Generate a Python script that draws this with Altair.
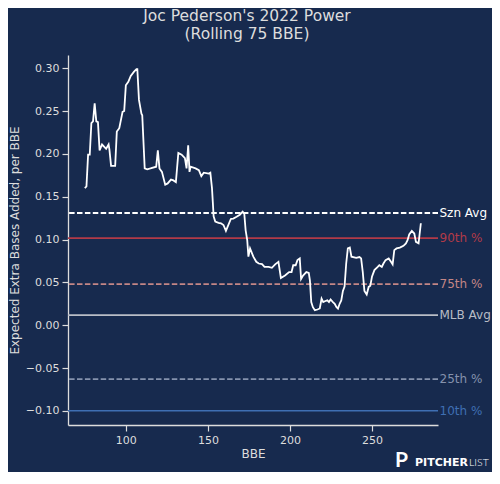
import altair as alt
import pandas as pd

# Rolling 75-BBE expected extra bases added
bbe = [75, 76, 77, 78, 79, 80, 81, 82, 83, 84, 85.5, 87, 88, 89.5, 90, 91, 93.5,
       94.5, 96, 98, 99, 100, 101.5, 103, 105, 106.5, 107, 108, 109.5, 110, 111.5,
       113, 115, 118.5, 119.5, 120.5, 122, 124, 125.5, 127.5, 129, 130.5, 132, 134,
       136, 137, 138, 138.8, 139.5, 142.5, 144.5, 146, 147.5, 150.5, 151.5, 152.5,
       153, 153.5, 154.5, 156.5, 158, 159.5, 161, 162.5, 164, 165.5, 167.5, 169.5,
       171.2, 172.2, 173, 174, 174.7, 175.7, 177.7, 179.5, 181, 183, 184.5, 187,
       189, 191, 193, 194.5, 197, 199.5, 201, 202, 203.5, 204.6, 206, 206.8, 208,
       210, 211.5, 212.2, 213, 214, 215.2, 216.8, 218.2, 219.3, 220.3, 221.3, 222.8,
       223.8, 224.8, 226.2, 227.3, 228.3, 229.3, 230.3, 231.3, 232.3, 233.3, 234.3,
       235.3, 236.5, 237.5, 240.4, 242.4, 243.4, 244.4, 245.4, 246.8, 248, 249, 250,
       251.5, 253.5, 254.5, 256, 257, 258.3, 260.2, 261.6, 262.6, 263.6, 265, 267,
       269.2, 270.7, 271.7, 272.7, 274.3, 275.8, 276.8, 278.4, 279.8]
xeba = [0.160, 0.162, 0.199, 0.199, 0.236, 0.238, 0.259, 0.238, 0.237, 0.204, 0.211,
        0.208, 0.206, 0.211, 0.205, 0.186, 0.186, 0.226, 0.230, 0.249, 0.250, 0.280,
        0.284, 0.291, 0.296, 0.299, 0.299, 0.263, 0.247, 0.245, 0.183, 0.182, 0.183,
        0.185, 0.204, 0.183, 0.179, 0.164, 0.1655, 0.170, 0.169, 0.167, 0.201, 0.199,
        0.195, 0.183, 0.210, 0.179, 0.185, 0.183, 0.181, 0.174, 0.178, 0.177, 0.178,
        0.160, 0.144, 0.127, 0.121, 0.1195, 0.119, 0.117, 0.110, 0.117, 0.124, 0.1245,
        0.1265, 0.129, 0.1325, 0.130, 0.111, 0.099, 0.080, 0.0896, 0.080, 0.074, 0.072,
        0.0713, 0.068, 0.068, 0.067, 0.071, 0.074, 0.055, 0.058, 0.062, 0.062, 0.070,
        0.070, 0.076, 0.078, 0.054, 0.058, 0.062, 0.061, 0.052, 0.027, 0.021, 0.0175,
        0.0183, 0.0195, 0.031, 0.027, 0.028, 0.029, 0.027, 0.030, 0.027, 0.025, 0.0214,
        0.0195, 0.025, 0.029, 0.040, 0.045, 0.072, 0.0896, 0.0907, 0.080, 0.0786,
        0.0795, 0.078, 0.062, 0.040, 0.0358, 0.0447, 0.046, 0.0565, 0.0643, 0.068,
        0.070, 0.068, 0.072, 0.076, 0.078, 0.074, 0.071, 0.0876, 0.0896, 0.0905,
        0.0926, 0.0954, 0.0993, 0.106, 0.110, 0.107, 0.0973, 0.0955, 0.119]

ref_labels = ["Szn Avg", "90th %", "75th %", "MLB Avg", "25th %", "10th %"]
ref_values = [0.131, 0.1016, 0.0479, 0.0117, -0.063, -0.100]

x_ticks = [100, 150, 200, 250]
y_ticks = [-0.10, -0.05, 0.00, 0.05, 0.10, 0.15, 0.20, 0.25, 0.30]

# styling
ref_colors = ["#ffffff", "#b23a48", "#c48686", "#b9bdc6", "#8592ad", "#3f6fb3"]
ref_dashes = [[5.5, 2.4], [1, 0], [5.5, 2.4], [1, 0], [5.5, 2.4], [1, 0]]
ref_widths = [2.0, 1.5, 1.5, 1.8, 1.5, 1.8]

BG = "#172a4e"
FG = "#dddddd"
FONT = "DejaVu Sans"
X_DOMAIN = [64.75, 290.25]
Y_DOMAIN = [-0.1165, 0.3154]
PAGE_CSS = "body{background:#172a4e;}"

line_df = pd.DataFrame({"BBE": bbe, "xEBA": xeba})
ref_df = pd.DataFrame({"label": ref_labels, "value": ref_values})

xscale = alt.Scale(domain=X_DOMAIN, nice=False, zero=False)
yscale = alt.Scale(domain=Y_DOMAIN, nice=False, zero=False)
cscale = alt.Scale(domain=ref_labels, range=ref_colors)

rules = alt.Chart(ref_df).mark_rule().encode(
    y=alt.Y("value:Q", scale=yscale),
    color=alt.Color("label:N", scale=cscale, legend=None),
    strokeDash=alt.StrokeDash("label:N", scale=alt.Scale(domain=ref_labels, range=ref_dashes), legend=None),
    size=alt.Size("label:N", scale=alt.Scale(domain=ref_labels, range=ref_widths), legend=None),
)

labels = alt.Chart(ref_df).mark_text(
    align="left", baseline="middle", dx=1.5, fontSize=12, font=FONT
).encode(
    x=alt.datum(X_DOMAIN[1], scale=xscale),
    y=alt.Y("value:Q", scale=yscale),
    text="label:N",
    color=alt.Color("label:N", scale=cscale, legend=None),
)

line = alt.Chart(line_df).mark_line(color="#ffffff", strokeWidth=1.8).encode(
    x=alt.X("BBE:Q", scale=xscale,
            axis=alt.Axis(title="BBE", values=x_ticks, format="d")),
    y=alt.Y("xEBA:Q", scale=yscale,
            axis=alt.Axis(title="Expected Extra Bases Added, per BBE",
                          values=y_ticks, format=".2f")),
)

logo_icon = alt.Chart(pd.DataFrame({"t": ["P"]})).mark_text(
    text="P", font="Lato", fontWeight="bold", fontSize=21, color="#ffffff",
    align="left", baseline="middle"
).encode(x=alt.value(327), y=alt.value(406))
logo_a = alt.Chart(pd.DataFrame({"t": ["PITCHER"]})).mark_text(
    text="PITCHER", font="DejaVu Sans", fontWeight="bold", fontSize=11, color="#ffffff",
    align="left", baseline="middle"
).encode(x=alt.value(347), y=alt.value(408))
logo_b = alt.Chart(pd.DataFrame({"t": ["LIST"]})).mark_text(
    text="LIST", font="Lato", fontWeight=300, fontSize=10.5, color="#ffffff",
    align="left", baseline="middle"
).encode(x=alt.value(401), y=alt.value(408))

chart = alt.layer(rules, line, labels, logo_icon, logo_a, logo_b).properties(
    width=370,
    height=370,
    background=BG,
    autosize=alt.AutoSizeParams(type="none"),
    padding={"left": 60, "top": 47, "right": 54, "bottom": 47},
    usermeta={"embedOptions": {"defaultStyle": PAGE_CSS}},
    title=alt.Title(
        text=["Joc Pederson's 2022 Power", "(Rolling 75 BBE)"],
        anchor="middle", dx=-6, fontSize=15.5, font=FONT, fontWeight="normal",
        color=FG, lineHeight=17.5, offset=-2, baseline="bottom",
    ),
).configure_view(stroke=None).configure_axis(
    grid=False,
    domainColor=FG, domainWidth=1.3,
    tickColor=FG, tickWidth=1.2, tickSize=6,
    labelColor=FG, labelFont=FONT, labelFontSize=11, labelPadding=3,
    titleColor=FG, titleFont=FONT, titleFontSize=12, titleFontWeight="normal",
    titlePadding=3.5,
)

chart.save("out.html", embed_options={"renderer": "svg", "actions": False})
